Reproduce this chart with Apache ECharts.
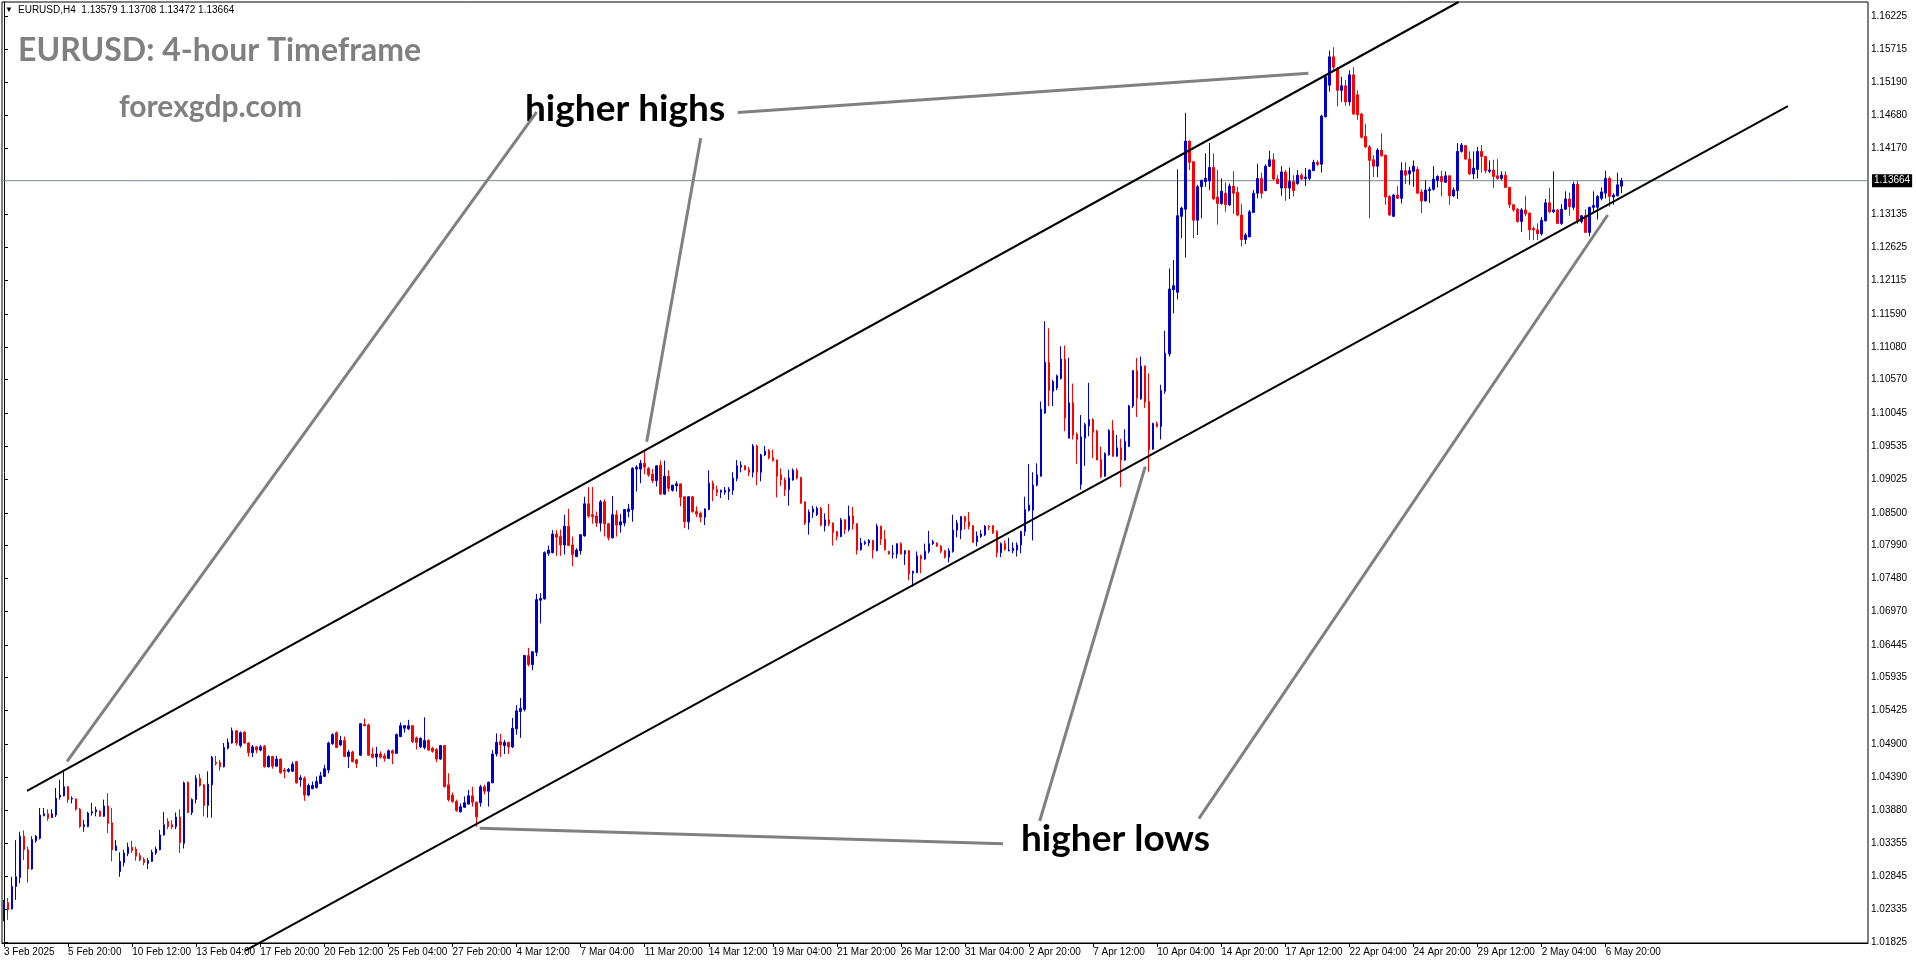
<!DOCTYPE html>
<html><head><meta charset="utf-8">
<script src="https://cdn.jsdelivr.net/npm/echarts@6/dist/echarts.min.js"></script>
<style>html,body{margin:0;padding:0;background:#fff;overflow:hidden}#c{width:1916px;height:964px}</style>
</head><body><div id="c"></div>
<script>
const symbol = 'EURUSD', timeframe = 'H4';
const tickLabels = ['3 Feb 2025','5 Feb 20:00','10 Feb 12:00','13 Feb 04:00','17 Feb 20:00','20 Feb 12:00','25 Feb 04:00','27 Feb 20:00','4 Mar 12:00','7 Mar 04:00','11 Mar 20:00','14 Mar 12:00','19 Mar 04:00','21 Mar 20:00','26 Mar 12:00','31 Mar 04:00','2 Apr 20:00','7 Apr 12:00','10 Apr 04:00','14 Apr 20:00','17 Apr 12:00','22 Apr 04:00','24 Apr 20:00','29 Apr 12:00','2 May 04:00','6 May 20:00'];
const barsPerTick = 16;
const barSlots = 466;
const priceTicks = [1.16225,1.15715,1.15190,1.14680,1.14170,1.13135,1.12625,1.12115,1.11590,1.11080,1.10570,1.10045,1.09535,1.09025,1.08500,1.07990,1.07480,1.06970,1.06445,1.05935,1.05425,1.04900,1.04390,1.03880,1.03355,1.02845,1.02335,1.01825];
const priceMin = 1.0181, priceMax = 1.16443;
const currentPrice = 1.13664;

const opens = [
1.0233,1.0244,1.0234,1.0269,1.0283,1.0347,1.0326,1.0296,1.0340,1.0344,
1.0379,1.0382,1.0376,1.0380,1.0408,1.0410,1.0424,1.0405,1.0405,1.0389,
1.0362,1.0362,1.0383,1.0385,1.0386,1.0378,1.0394,1.0368,1.0325,1.0292,
1.0306,1.0320,1.0330,1.0327,1.0317,1.0311,1.0305,1.0308,1.0321,1.0326,
1.0349,1.0370,1.0365,1.0362,1.0377,1.0336,1.0431,1.0384,1.0404,1.0437,
1.0427,1.0395,1.0427,1.0462,1.0462,1.0455,1.0484,1.0492,1.0511,1.0488,
1.0509,1.0492,1.0477,1.0486,1.0481,1.0487,1.0455,1.0471,1.0456,1.0467,
1.0450,1.0448,1.0448,1.0463,1.0435,1.0437,1.0411,1.0421,1.0423,1.0429,
1.0440,1.0450,1.0491,1.0508,1.0489,1.0496,1.0471,1.0478,1.0466,1.0473,
1.0521,1.0520,1.0475,1.0470,1.0475,1.0472,1.0468,1.0480,1.0476,1.0502,
1.0515,1.0514,1.0519,1.0500,1.0486,1.0485,1.0496,1.0484,1.0482,1.0467,
1.0488,1.0427,1.0411,1.0401,1.0385,1.0392,1.0397,1.0410,1.0400,1.0399,
1.0424,1.0417,1.0430,1.0475,1.0494,1.0488,1.0493,1.0486,1.0514,1.0541,
1.0544,1.0628,1.0614,1.0633,1.0714,1.0716,1.0787,1.0788,1.0817,1.0813,
1.0800,1.0829,1.0800,1.0782,1.0791,1.0814,1.0864,1.0847,1.0845,1.0834,
1.0867,1.0833,1.0811,1.0847,1.0831,1.0834,1.0852,1.0855,1.0918,1.0918,
1.0927,1.0919,1.0910,1.0900,1.0924,1.0879,1.0907,1.0885,1.0892,1.0895,
1.0875,1.0836,1.0875,1.0852,1.0849,1.0843,1.0855,1.0896,1.0886,1.0882,
1.0882,1.0883,1.0885,1.0903,1.0921,1.0923,1.0917,1.0913,1.0954,1.0913,
1.0940,1.0947,1.0936,1.0932,1.0909,1.0901,1.0886,1.0901,1.0916,1.0905,
1.0867,1.0835,1.0851,1.0847,1.0857,1.0830,1.0839,1.0834,1.0821,1.0813,
1.0839,1.0824,1.0845,1.0833,1.0793,1.0802,1.0803,1.0807,1.0791,1.0829,
1.0809,1.0790,1.0786,1.0786,1.0802,1.0786,1.0791,1.0756,1.0757,1.0783,
1.0778,1.0790,1.0802,1.0803,1.0798,1.0791,1.0781,1.0790,1.0823,1.0823,
1.0844,1.0836,1.0830,1.0805,1.0813,1.0816,1.0829,1.0830,1.0821,1.0788,
1.0802,1.0791,1.0791,1.0792,1.0800,1.0821,1.0854,1.0854,1.0893,1.0907,
1.1005,1.1084,1.1039,1.1044,1.1059,1.1089,1.0966,1.1021,1.0972,1.0894,
1.0966,1.0985,1.0995,1.0977,1.0933,1.0907,1.0940,1.0978,1.0938,1.0951,
1.0932,1.0953,1.1016,1.1071,1.1027,1.1078,1.1023,1.0949,1.0989,1.0984,
1.1039,1.1097,1.1197,1.1193,1.1311,1.1322,1.1428,1.1396,1.1305,1.1357,
1.1365,1.1366,1.1387,1.1341,1.1331,1.1347,1.1329,1.1358,1.1348,1.1313,
1.1275,1.1279,1.1317,1.1347,1.1370,1.1351,1.1389,1.1399,1.1369,1.1355,
1.1380,1.1355,1.1365,1.1362,1.1375,1.1370,1.1370,1.1382,1.1395,1.1392,
1.1466,1.1515,1.1559,1.1541,1.1507,1.1514,1.1489,1.1531,1.1500,1.1470,
1.1435,1.1419,1.1399,1.1389,1.1414,1.1406,1.1342,1.1311,1.1344,1.1339,
1.1382,1.1377,1.1381,1.1384,1.1349,1.1335,1.1351,1.1353,1.1367,1.1373,
1.1364,1.1374,1.1343,1.1351,1.1412,1.1421,1.1400,1.1377,1.1384,1.1412,
1.1404,1.1381,1.1383,1.1374,1.1370,1.1375,1.1356,1.1329,1.1322,1.1303,
1.1321,1.1316,1.1292,1.1290,1.1284,1.1304,1.1332,1.1318,1.1321,1.1300,
1.1322,1.1338,1.1325,1.1361,1.1303,1.1312,1.1286,1.1325,1.1325,1.1339,
1.1347,1.1370,1.1341,1.1343,1.13579];

const highs = [
1.0248,1.0251,1.0284,1.0341,1.0354,1.0356,1.0331,1.0347,1.0349,1.0391,
1.0391,1.0389,1.0389,1.0422,1.0435,1.0448,1.0425,1.0409,1.0406,1.0391,
1.0372,1.0385,1.0399,1.0393,1.0387,1.0404,1.0414,1.0391,1.0341,1.0322,
1.0326,1.0337,1.0340,1.0331,1.0321,1.0314,1.0313,1.0326,1.0331,1.0357,
1.0385,1.0375,1.0372,1.0384,1.0389,1.0432,1.0432,1.0406,1.0442,1.0444,
1.0428,1.0448,1.0472,1.0472,1.0466,1.0492,1.0499,1.0516,1.0512,1.0510,
1.0510,1.0493,1.0489,1.0487,1.0489,1.0489,1.0473,1.0472,1.0472,1.0468,
1.0453,1.0453,1.0463,1.0464,1.0442,1.0440,1.0429,1.0432,1.0440,1.0447,
1.0458,1.0494,1.0507,1.0510,1.0503,1.0502,1.0481,1.0480,1.0467,1.0523,
1.0530,1.0522,1.0485,1.0486,1.0479,1.0476,1.0482,1.0482,1.0507,1.0524,
1.0520,1.0528,1.0520,1.0502,1.0501,1.0532,1.0498,1.0486,1.0484,1.0489,
1.0489,1.0445,1.0415,1.0404,1.0398,1.0409,1.0419,1.0424,1.0401,1.0427,
1.0427,1.0432,1.0481,1.0507,1.0506,1.0497,1.0494,1.0531,1.0551,1.0562,
1.0629,1.0640,1.0635,1.0724,1.0725,1.0790,1.0799,1.0823,1.0823,1.0824,
1.0847,1.0856,1.0813,1.0795,1.0816,1.0875,1.0890,1.0890,1.0852,1.0870,
1.0871,1.0834,1.0876,1.0854,1.0848,1.0856,1.0864,1.0921,1.0924,1.0932,
1.0948,1.0921,1.0918,1.0924,1.0931,1.0931,1.0916,1.0893,1.0899,1.0895,
1.0875,1.0876,1.0876,1.0860,1.0852,1.0857,1.0916,1.0900,1.0892,1.0886,
1.0890,1.0890,1.0913,1.0932,1.0930,1.0924,1.0921,1.0957,1.0956,1.0942,
1.0954,1.0949,1.0948,1.0933,1.0919,1.0905,1.0917,1.0919,1.0919,1.0906,
1.0868,1.0855,1.0861,1.0860,1.0859,1.0849,1.0864,1.0835,1.0822,1.0842,
1.0840,1.0861,1.0859,1.0834,1.0811,1.0807,1.0809,1.0808,1.0833,1.0830,
1.0823,1.0791,1.0800,1.0802,1.0804,1.0792,1.0792,1.0760,1.0790,1.0785,
1.0802,1.0822,1.0808,1.0804,1.0800,1.0792,1.0795,1.0847,1.0839,1.0845,
1.0845,1.0851,1.0831,1.0821,1.0823,1.0831,1.0831,1.0831,1.0823,1.0804,
1.0807,1.0811,1.0804,1.0804,1.0822,1.0875,1.0926,1.0913,1.0927,1.1023,
1.1148,1.1137,1.1057,1.1065,1.1109,1.1110,1.1091,1.1051,1.0975,1.1002,
1.0990,1.1052,1.0997,1.0979,1.0953,1.0944,1.0980,1.0994,1.0971,1.0965,
1.0980,1.1018,1.1072,1.1091,1.1093,1.1079,1.1067,1.0990,1.0992,1.1049,
1.1133,1.1230,1.1243,1.1384,1.1326,1.1472,1.1429,1.1397,1.1360,1.1368,
1.1409,1.1425,1.1409,1.1383,1.1370,1.1364,1.1362,1.1381,1.1357,1.1330,
1.1285,1.1321,1.1352,1.1393,1.1379,1.1392,1.1413,1.1409,1.1375,1.1389,
1.1383,1.1387,1.1375,1.1383,1.1378,1.1386,1.1384,1.1399,1.1398,1.1469,
1.1529,1.1569,1.1574,1.1543,1.1528,1.1523,1.1538,1.1543,1.1507,1.1472,
1.1455,1.1422,1.1406,1.1417,1.1440,1.1407,1.1344,1.1346,1.1358,1.1395,
1.1395,1.1388,1.1398,1.1388,1.1353,1.1367,1.1357,1.1389,1.1375,1.1382,
1.1381,1.1375,1.1356,1.1425,1.1425,1.1422,1.1412,1.1412,1.1419,1.1422,
1.1405,1.1398,1.1399,1.1400,1.1381,1.1381,1.1357,1.1330,1.1324,1.1324,
1.1343,1.1317,1.1295,1.1300,1.1310,1.1338,1.1355,1.1381,1.1322,1.1330,
1.1350,1.1348,1.1365,1.1366,1.1313,1.1322,1.1326,1.1350,1.1344,1.1356,
1.1382,1.1373,1.1347,1.1379,1.13708];

const lows = [
1.0215,1.0217,1.0233,1.0248,1.0274,1.0310,1.0275,1.0295,1.0337,1.0342,
1.0378,1.0371,1.0376,1.0377,1.0404,1.0409,1.0399,1.0398,1.0387,1.0360,
1.0354,1.0361,1.0379,1.0378,1.0377,1.0377,1.0352,1.0308,1.0324,1.0284,
1.0300,1.0316,1.0321,1.0309,1.0308,1.0302,1.0296,1.0307,1.0318,1.0325,
1.0348,1.0358,1.0358,1.0358,1.0321,1.0328,1.0383,1.0380,1.0398,1.0424,
1.0378,1.0376,1.0376,1.0457,1.0449,1.0454,1.0482,1.0491,1.0488,1.0485,
1.0491,1.0471,1.0470,1.0476,1.0479,1.0454,1.0454,1.0452,1.0455,1.0444,
1.0437,1.0446,1.0448,1.0429,1.0424,1.0402,1.0409,1.0420,1.0421,1.0429,
1.0439,1.0445,1.0489,1.0484,1.0487,1.0470,1.0453,1.0462,1.0453,1.0472,
1.0518,1.0472,1.0468,1.0455,1.0468,1.0463,1.0467,1.0459,1.0475,1.0501,
1.0508,1.0512,1.0492,1.0482,1.0484,1.0482,1.0480,1.0477,1.0462,1.0466,
1.0423,1.0401,1.0399,1.0385,1.0384,1.0391,1.0396,1.0393,1.0362,1.0393,
1.0412,1.0393,1.0430,1.0471,1.0470,1.0475,1.0475,1.0484,1.0505,1.0500,
1.0541,1.0611,1.0605,1.0627,1.0678,1.0715,1.0783,1.0787,1.0783,1.0783,
1.0785,1.0799,1.0767,1.0781,1.0785,1.0813,1.0842,1.0833,1.0828,1.0821,
1.0813,1.0807,1.0810,1.0813,1.0819,1.0829,1.0843,1.0836,1.0883,1.0896,
1.0910,1.0906,1.0896,1.0891,1.0878,1.0878,1.0883,1.0883,1.0883,1.0860,
1.0826,1.0824,1.0850,1.0843,1.0835,1.0831,1.0854,1.0868,1.0876,1.0873,
1.0878,1.0870,1.0878,1.0899,1.0913,1.0916,1.0907,1.0905,1.0893,1.0899,
1.0938,1.0933,1.0930,1.0874,1.0892,1.0876,1.0861,1.0900,1.0902,1.0864,
1.0831,1.0816,1.0842,1.0845,1.0829,1.0821,1.0829,1.0799,1.0807,1.0812,
1.0817,1.0821,1.0824,1.0785,1.0791,1.0800,1.0798,1.0779,1.0790,1.0800,
1.0791,1.0785,1.0779,1.0779,1.0785,1.0769,1.0745,1.0735,1.0756,1.0756,
1.0777,1.0787,1.0800,1.0797,1.0787,1.0779,1.0773,1.0788,1.0812,1.0809,
1.0824,1.0824,1.0803,1.0798,1.0811,1.0814,1.0823,1.0817,1.0781,1.0781,
1.0791,1.0790,1.0787,1.0782,1.0787,1.0814,1.0852,1.0807,1.0891,1.0906,
1.1004,1.1016,1.1016,1.1041,1.1057,1.0977,1.0966,1.0964,1.0926,1.0886,
1.0923,1.0969,1.0935,1.0932,1.0904,1.0906,1.0939,1.0937,1.0937,1.0890,
1.0931,1.0953,1.1013,1.0999,1.1026,1.1013,1.0914,1.0948,1.0983,1.0964,
1.1035,1.1093,1.1160,1.1182,1.1277,1.1247,1.1383,1.1277,1.1282,1.1308,
1.1357,1.1352,1.1337,1.1298,1.1329,1.1318,1.1327,1.1315,1.1311,1.1264,
1.1268,1.1279,1.1316,1.1339,1.1339,1.1350,1.1388,1.1367,1.1361,1.1343,
1.1335,1.1338,1.1342,1.1360,1.1368,1.1358,1.1367,1.1382,1.1389,1.1379,
1.1465,1.1505,1.1539,1.1482,1.1489,1.1483,1.1483,1.1469,1.1461,1.1432,
1.1417,1.1308,1.1372,1.1372,1.1404,1.1329,1.1312,1.1310,1.1338,1.1331,
1.1361,1.1360,1.1357,1.1346,1.1316,1.1334,1.1332,1.1351,1.1356,1.1342,
1.1363,1.1329,1.1341,1.1338,1.1410,1.1399,1.1375,1.1369,1.1370,1.1379,
1.1378,1.1378,1.1355,1.1368,1.1367,1.1355,1.1324,1.1318,1.1301,1.1287,
1.1311,1.1274,1.1274,1.1274,1.1281,1.1303,1.1316,1.1316,1.1299,1.1298,
1.1321,1.1312,1.1321,1.1299,1.1300,1.1285,1.1280,1.1318,1.1306,1.1336,
1.1339,1.1326,1.1329,1.1342,1.13472];

const closes = [
1.0244,1.0233,1.0269,1.0284,1.0347,1.0326,1.0296,1.0342,1.0347,1.0380,
1.0382,1.0375,1.0382,1.0406,1.0411,1.0424,1.0404,1.0406,1.0389,1.0362,
1.0365,1.0383,1.0385,1.0388,1.0378,1.0394,1.0367,1.0326,1.0332,1.0308,
1.0321,1.0330,1.0325,1.0316,1.0310,1.0306,1.0309,1.0322,1.0327,1.0349,
1.0365,1.0362,1.0361,1.0377,1.0337,1.0430,1.0384,1.0404,1.0437,1.0426,
1.0395,1.0428,1.0470,1.0460,1.0455,1.0485,1.0493,1.0511,1.0492,1.0508,
1.0492,1.0477,1.0486,1.0481,1.0486,1.0455,1.0471,1.0456,1.0467,1.0446,
1.0448,1.0451,1.0459,1.0430,1.0438,1.0411,1.0426,1.0426,1.0432,1.0441,
1.0452,1.0492,1.0505,1.0485,1.0496,1.0471,1.0478,1.0463,1.0460,1.0522,
1.0519,1.0473,1.0470,1.0475,1.0470,1.0468,1.0480,1.0476,1.0505,1.0519,
1.0519,1.0519,1.0494,1.0493,1.0499,1.0496,1.0481,1.0479,1.0467,1.0488,
1.0424,1.0404,1.0401,1.0387,1.0393,1.0399,1.0410,1.0400,1.0377,1.0424,
1.0417,1.0431,1.0475,1.0493,1.0489,1.0493,1.0486,1.0515,1.0542,1.0546,
1.0628,1.0614,1.0634,1.0715,1.0717,1.0788,1.0792,1.0817,1.0812,1.0800,
1.0829,1.0799,1.0785,1.0792,1.0816,1.0864,1.0845,1.0844,1.0834,1.0867,
1.0833,1.0811,1.0847,1.0831,1.0836,1.0855,1.0856,1.0919,1.0921,1.0927,
1.0921,1.0909,1.0900,1.0923,1.0879,1.0907,1.0888,1.0893,1.0895,1.0874,
1.0836,1.0875,1.0852,1.0848,1.0843,1.0856,1.0896,1.0886,1.0882,1.0885,
1.0885,1.0887,1.0904,1.0923,1.0924,1.0917,1.0913,1.0954,1.0913,1.0940,
1.0946,1.0936,1.0931,1.0907,1.0901,1.0886,1.0904,1.0916,1.0904,1.0865,
1.0834,1.0851,1.0856,1.0857,1.0831,1.0839,1.0833,1.0819,1.0813,1.0839,
1.0824,1.0845,1.0833,1.0792,1.0803,1.0804,1.0807,1.0792,1.0829,1.0809,
1.0793,1.0786,1.0787,1.0802,1.0786,1.0791,1.0755,1.0759,1.0783,1.0778,
1.0790,1.0802,1.0805,1.0798,1.0790,1.0781,1.0791,1.0823,1.0834,1.0844,
1.0836,1.0829,1.0804,1.0814,1.0817,1.0829,1.0828,1.0819,1.0788,1.0802,
1.0793,1.0792,1.0795,1.0800,1.0821,1.0855,1.0862,1.0893,1.0909,1.1011,
1.1084,1.1040,1.1054,1.1063,1.1089,1.0997,1.1021,1.0971,1.0964,1.0968,
1.0987,1.0995,1.0975,1.0932,1.0906,1.0942,1.0978,1.0938,1.0951,1.0932,
1.0961,1.1016,1.1071,1.1028,1.1078,1.1022,1.0948,1.0989,1.0984,1.1040,
1.1098,1.1198,1.1203,1.1312,1.1324,1.1428,1.1395,1.1305,1.1357,1.1367,
1.1370,1.1387,1.1338,1.1331,1.1350,1.1329,1.1358,1.1347,1.1313,1.1275,
1.1282,1.1318,1.1347,1.1370,1.1347,1.1389,1.1399,1.1369,1.1362,1.1380,
1.1355,1.1365,1.1351,1.1375,1.1369,1.1372,1.1383,1.1395,1.1392,1.1467,
1.1528,1.1559,1.1543,1.1507,1.1514,1.1489,1.1531,1.1470,1.1469,1.1434,
1.1419,1.1398,1.1389,1.1414,1.1405,1.1341,1.1313,1.1344,1.1339,1.1382,
1.1375,1.1382,1.1389,1.1347,1.1335,1.1352,1.1353,1.1369,1.1373,1.1365,
1.1374,1.1343,1.1352,1.1412,1.1422,1.1400,1.1377,1.1386,1.1412,1.1404,
1.1382,1.1383,1.1373,1.1370,1.1375,1.1356,1.1329,1.1321,1.1303,1.1321,
1.1315,1.1290,1.1290,1.1284,1.1305,1.1332,1.1318,1.1321,1.1300,1.1322,
1.1338,1.1326,1.1361,1.1303,1.1312,1.1286,1.1325,1.1328,1.1342,1.1349,
1.1370,1.1342,1.1344,1.1360,1.13664];

// trend lines, as [bar index, price]
const upperChannel = [[5.75, 1.04174], [363.25, 1.16443]];
const lowerChannel = [[60.25, 1.01692], [445.5, 1.14824]];
const highPointers = [
  [[133, 1.14732], [15.75, 1.04633]],
  [[174, 1.14328], [160.5, 1.09606]],
  [[183.25, 1.14726], [325.75, 1.15334]]
];
const lowPointers = [
  [[118.8, 1.03594], [249.5, 1.03354]],
  [[258.65, 1.03707], [285, 1.09217]],
  [[298.4, 1.03743], [400.5, 1.13131]]
];

const candles = opens.map((o, i) => [o, closes[i], lows[i], highs[i]]);
const categories = Array.from({length: barSlots}, (_, i) => i);
const last = opens.length - 1;
const fmt = v => v.toFixed(5);

const chart = echarts.init(document.getElementById('c'), null, {renderer: 'canvas'});
const axisFont = 'Liberation Sans, Arial, sans-serif';
const tickShown = idx => idx % barsPerTick === 0 && idx / barsPerTick < tickLabels.length;

const lineSeries = (data, color, width) => ({
  type: 'line', xAxisIndex: 1, yAxisIndex: 0, data: data, symbol: 'none',
  clip: false, silent: true, animation: false,
  lineStyle: {color: color, width: width}, z: 5
});

const series = [{
  type: 'candlestick',
  data: candles,
  barWidth: 2,
  itemStyle: {color: '#0000CD', color0: '#FF0000', borderColor: '#0000CD', borderColor0: '#FF0000', borderWidth: 1},
  z: 3
}];
// current price line
series.push({
  type: 'line', xAxisIndex: 1, yAxisIndex: 0, symbol: 'none', silent: true, animation: false, clip: false,
  data: [[-0.5, currentPrice], [barSlots - 0.5, currentPrice]],
  lineStyle: {color: '#778899', width: 1},
  endLabel: {show: true, formatter: () => fmt(currentPrice), distance: 4,
    backgroundColor: '#000', color: '#fff', fontSize: 10, fontFamily: axisFont, padding: [2, 2, 1, 2]},
  z: 2
});
series.push(lineSeries(upperChannel, '#000', 2));
series.push(lineSeries(lowerChannel, '#000', 2));
highPointers.concat(lowPointers).forEach(p => series.push(lineSeries(p, '#808080', 3)));

chart.setOption({
  animation: false,
  backgroundColor: '#fff',
  grid: {left: 2, top: 2, right: 48, bottom: 21, show: true, borderColor: '#000', borderWidth: 1, backgroundColor: '#fff'},
  xAxis: [{
    type: 'category', data: categories, boundaryGap: true,
    axisLine: {show: true, lineStyle: {color: '#000', width: 1}},
    axisTick: {show: true, alignWithLabel: true, interval: tickShown, length: 4, lineStyle: {color: '#000'}},
    axisLabel: {show: true, interval: tickShown, formatter: (v, idx) => tickLabels[idx / barsPerTick],
      align: 'left', margin: 4, fontSize: 10, color: '#000', fontFamily: axisFont},
    splitLine: {show: false}
  }, {
    type: 'value', min: -0.5, max: barSlots - 0.5, show: false
  }],
  yAxis: [{
    type: 'value', position: 'right', min: priceMin, max: priceMax, scale: true,
    axisLine: {show: true, lineStyle: {color: '#000', width: 1}},
    axisTick: {show: true, customValues: priceTicks, length: 4, lineStyle: {color: '#000'}},
    axisLabel: {show: true, customValues: priceTicks, formatter: fmt, margin: 3, fontSize: 10, color: '#000', fontFamily: axisFont, hideOverlap: false},
    splitLine: {show: false}
  }],
  graphic: [
    {type: 'text', left: 5, top: 6, style: {text: '▼', fontSize: 8, fill: '#000'}},
    {type: 'text', left: 18, top: 5, style: {text: symbol + ',' + timeframe + '  ' + [opens[last], highs[last], lows[last], closes[last]].map(fmt).join(' '), fontSize: 10, fontFamily: axisFont, fill: '#000'}},
    {type: 'text', left: 18, top: 35, style: {text: 'EURUSD: 4-hour Timeframe', font: 'bold 32px Lato, sans-serif', fill: '#808080'}},
    {type: 'text', left: 119, top: 92, style: {text: 'forexgdp.com', font: 'bold 30px Lato, sans-serif', fill: '#808080'}},
    {type: 'text', left: 525, top: 91, style: {text: 'higher highs', font: 'bold 37px Lato, sans-serif', fill: '#000'}},
    {type: 'text', left: 1021, top: 821, style: {text: 'higher lows', font: 'bold 37px Lato, sans-serif', fill: '#000'}}
  ],
  series: series
});
</script>
</body></html>
